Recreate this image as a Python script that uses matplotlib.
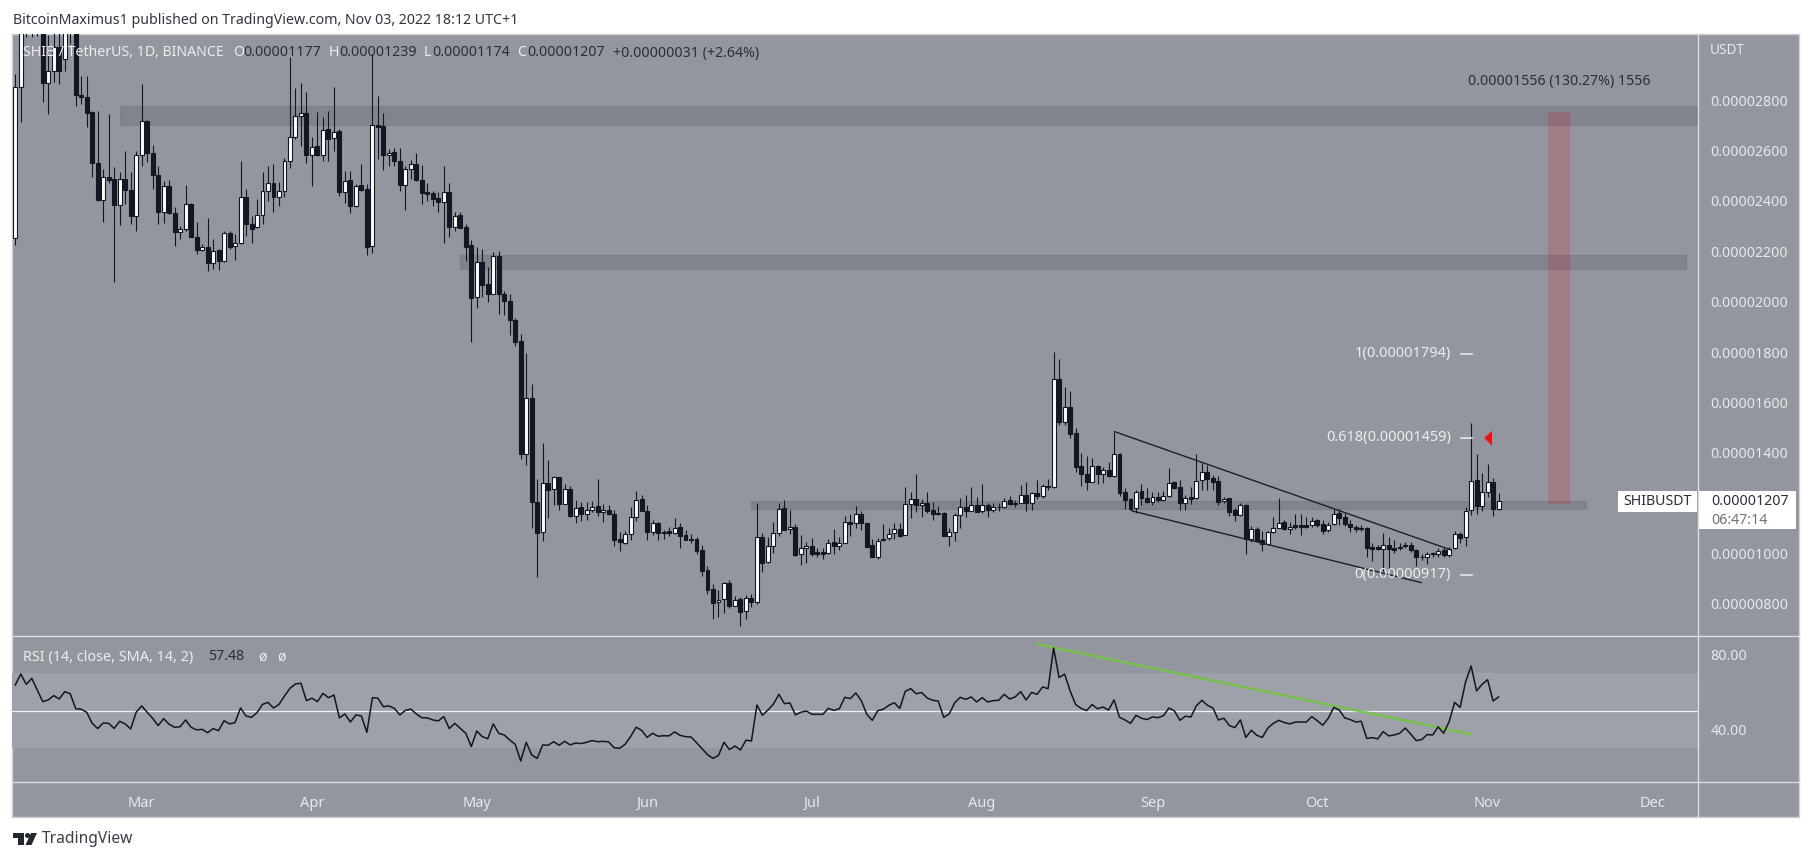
import numpy as np
import matplotlib
matplotlib.use("Agg")
import matplotlib.pyplot as plt
from matplotlib.patches import Rectangle, Polygon, Circle

# price values in units of 0.000001 USDT, one candle per day starting Feb 6 2022
opens = [22.52,28.50,31.6,31.2,31.6,31.0,28.69,29.14,30.12,29.63,
 31.5,31.0,28.21,28.11,27.51,25.49,24.05,24.96,24.87,23.85,
 24.88,24.44,23.41,25.80,27.15,25.91,25.04,23.57,24.60,23.52,
 22.78,22.89,23.86,22.58,22.06,22.15,21.52,22.04,21.62,22.74,
 22.21,22.34,24.14,23.08,22.95,23.45,24.40,24.69,24.14,24.40,
 25.57,26.52,27.38,27.47,25.83,26.16,25.80,26.84,26.48,26.76,
 24.36,24.83,23.81,24.61,24.46,22.19,27.00,26.96,25.80,25.94,
 25.59,24.64,25.25,25.46,24.83,24.34,24.31,24.11,23.94,24.34,
 22.97,23.42,22.95,22.25,20.17,21.57,20.69,20.31,21.80,20.29,
 20.04,19.27,18.43,13.96,16.17,12.03,10.84,12.80,12.55,13.05,
 11.98,12.56,11.51,11.83,11.59,11.75,11.88,11.67,11.75,11.59,
 10.57,10.44,10.76,11.47,12.15,11.71,10.87,11.20,10.80,10.88,
 10.80,11.04,10.72,10.57,10.56,10.13,9.35,8.59,8.06,8.18,
 8.83,7.94,8.18,7.71,8.22,8.09,10.64,9.65,10.29,10.80,
 11.79,10.96,11.05,9.97,10.21,10.32,10.05,10.05,10.01,10.47,
 10.32,10.44,11.26,11.20,11.59,11.20,10.33,9.87,10.52,10.60,
 10.80,10.99,10.72,11.96,12.17,11.92,12.01,11.72,11.61,11.61,
 10.68,10.85,11.52,11.84,11.71,11.91,11.68,11.91,11.72,11.84,
 11.84,12.12,11.95,12.02,12.32,12.02,12.41,12.30,12.67,12.63,
 16.92,15.24,15.82,14.78,13.48,13.16,12.86,13.48,13.15,13.32,
 13.06,13.94,12.43,12.17,11.80,12.47,12.20,12.06,12.24,12.14,
 12.30,12.83,12.63,12.00,12.24,12.20,12.91,13.24,12.99,12.87,
 12.08,12.20,11.73,11.55,11.93,10.58,10.98,10.53,10.37,10.84,
 11.03,11.24,10.99,11.12,11.12,11.12,11.12,11.32,11.17,10.93,
 11.17,11.61,11.44,11.18,11.07,11.00,11.00,10.25,10.25,10.18,
 10.35,10.21,10.25,10.29,10.35,10.14,9.88,9.88,10.01,9.97,
 10.14,9.93,10.21,10.76,10.65,11.73,12.91,11.90,12.43,12.83,11.77]
closes = [28.50,31.6,31.2,31.6,31.0,28.69,29.14,30.12,29.14,31.0,
 31.0,28.21,28.11,27.50,25.49,24.05,24.96,24.83,23.85,24.88,
 24.44,23.41,25.80,27.15,25.91,25.04,23.57,24.60,23.52,22.78,
 22.89,23.86,22.58,22.06,22.15,21.52,22.02,21.62,22.74,22.15,
 22.34,24.14,23.08,22.89,23.45,24.40,24.69,24.14,24.40,25.57,
 26.55,27.38,27.47,25.83,26.15,25.82,26.82,26.47,26.74,24.36,
 24.80,23.81,24.60,24.44,22.18,27.00,26.94,25.80,25.91,25.59,
 24.64,25.26,25.45,24.84,24.31,24.27,24.09,23.97,24.34,22.97,
 23.41,22.93,22.18,20.16,21.56,20.67,20.31,21.80,20.29,20.01,
 19.27,18.41,13.96,16.16,12.06,10.83,12.82,12.52,13.05,11.98,
 12.55,11.50,11.79,11.58,11.75,11.86,11.66,11.75,11.58,10.55,
 10.47,10.76,11.46,12.14,11.71,10.87,11.20,10.80,10.87,10.80,
 11.03,10.71,10.55,10.55,10.11,9.32,8.56,8.02,8.17,8.82,
 7.93,8.14,7.69,8.22,8.09,10.64,9.64,10.30,10.80,11.78,
 10.95,11.06,9.94,10.21,10.31,9.99,9.99,9.99,10.43,10.32,
 10.43,11.26,11.16,11.57,11.20,10.27,9.87,10.51,10.59,10.79,
 10.99,10.71,11.96,12.16,11.91,12.00,11.69,11.59,11.59,10.68,
 10.85,11.52,11.83,11.71,11.91,11.67,11.91,11.75,11.83,11.83,
 12.10,11.95,12.02,12.32,12.02,12.40,12.30,12.67,12.63,16.92,
 15.24,15.81,14.76,13.45,13.14,12.86,13.47,13.14,13.31,13.06,
 13.94,12.42,12.14,11.77,12.46,12.20,12.06,12.26,12.13,12.30,
 12.82,12.61,11.99,12.22,12.18,12.90,13.25,12.98,12.86,12.06,
 12.18,11.67,11.55,11.92,10.58,10.97,10.50,10.37,10.84,11.03,
 11.23,10.99,11.07,11.06,11.07,11.07,11.31,11.14,10.91,11.14,
 11.59,11.43,11.18,11.06,10.97,10.98,10.21,10.18,10.20,10.35,
 10.17,10.16,10.21,10.35,10.14,9.87,9.85,9.98,9.98,10.12,
 9.94,10.20,10.76,10.60,11.70,12.89,11.90,12.43,12.83,11.77,12.07]
highs = [29.03,32.5,32.8,33.0,32.3,31.5,30.6,31.0,30.9,31.5,
 32.0,31.4,28.97,28.97,27.58,27.55,25.26,27.45,25.33,25.13,
 25.99,25.13,25.99,28.64,27.21,26.22,25.39,24.80,24.84,23.74,
 23.01,24.63,23.91,23.15,22.29,23.30,22.48,22.09,22.82,22.82,
 22.68,25.59,24.47,23.41,24.07,25.13,25.39,25.46,24.73,25.70,
 29.69,28.48,28.66,28.31,26.55,27.51,27.31,27.55,28.50,26.85,
 25.20,25.20,24.67,25.46,24.67,29.83,28.16,27.49,26.06,26.10,
 26.10,25.39,25.62,25.90,25.42,24.69,24.40,24.34,25.38,24.71,
 23.54,23.57,23.08,22.45,22.15,22.09,21.36,21.96,22.00,20.43,
 20.3,19.33,18.71,17.98,16.75,12.96,14.37,13.71,13.08,13.05,
 12.78,12.68,12.12,12.06,12.06,12.08,12.96,11.96,11.92,11.73,
 10.87,10.91,11.86,12.48,12.32,11.92,11.33,11.26,10.93,11.04,
 11.40,11.20,10.93,10.76,10.64,10.36,9.50,8.79,8.55,8.88,
 8.95,8.31,8.29,8.35,8.39,11.99,10.80,10.64,11.24,11.99,
 12.11,11.73,11.18,10.73,10.47,10.60,10.21,10.21,10.56,10.96,
 10.64,11.49,11.59,11.89,11.70,11.22,10.56,10.62,11.17,11.03,
 11.20,11.20,12.66,12.46,13.15,12.16,12.43,12.06,11.87,11.64,
 11.01,11.60,12.20,12.33,12.66,12.26,12.75,12.00,12.00,12.00,
 12.20,12.30,12.13,12.73,12.83,12.46,12.92,12.75,12.95,17.99,
 17.73,16.63,16.47,14.97,13.98,13.88,13.81,13.51,13.45,13.63,
 14.84,13.98,12.59,12.20,12.53,12.77,12.59,12.46,12.46,12.49,
 13.40,12.88,12.92,12.33,12.66,13.96,13.59,13.52,13.12,13.06,
 12.26,12.22,11.80,12.00,11.96,11.11,11.07,10.90,10.91,11.47,
 12.20,11.34,11.27,11.56,11.56,11.47,11.47,11.36,11.34,11.27,
 11.77,11.76,11.60,11.34,11.14,11.13,11.04,10.41,10.34,10.83,
 10.67,10.54,10.41,10.47,10.45,10.18,9.98,10.07,10.07,10.21,
 10.27,10.27,10.90,10.87,11.86,15.17,13.94,13.19,13.54,12.99,12.39]
lows = [22.26,27.11,30.51,30.49,30.55,27.92,27.45,28.70,28.64,29.16,
 30.22,27.78,27.84,26.94,24.93,24.01,23.15,24.7,20.77,23.05,
 23.87,23.08,22.82,25.39,25.53,24.47,23.08,23.11,23.48,22.22,
 22.48,22.82,22.55,21.89,22.02,21.23,21.29,21.25,21.56,22.09,
 21.65,22.29,22.59,22.31,22.92,23.08,24.01,23.57,23.81,24.14,
 25.30,26.45,26.19,25.49,24.60,25.79,25.59,25.59,25.99,24.20,
 23.91,23.52,23.74,24.40,21.86,21.93,25.66,25.24,25.39,25.39,
 24.40,23.64,24.87,24.80,23.87,24.01,23.81,23.57,22.33,22.58,
 22.82,22.92,21.62,18.41,19.75,20.17,19.97,20.30,19.51,19.48,
 18.67,18.25,13.75,13.51,11.03,9.08,10.50,11.42,11.94,11.74,
 11.96,11.46,11.22,11.29,11.33,11.66,11.49,11.26,11.53,10.30,
 10.11,10.40,10.54,11.30,11.69,10.55,10.75,10.54,10.59,10.69,
 10.77,10.23,10.54,10.43,9.98,9.13,8.38,7.41,7.49,7.63,
 7.86,7.92,7.14,7.40,7.89,8.00,9.28,9.61,10.03,10.71,
 10.93,10.77,9.90,9.54,9.64,9.90,9.85,9.77,9.98,9.98,
 10.14,10.43,10.71,11.03,10.93,10.25,9.87,9.79,10.51,10.54,
 10.56,10.67,10.72,11.43,11.67,11.47,11.63,11.34,11.54,10.68,
 10.32,10.50,11.01,11.47,11.69,11.67,11.63,11.47,11.67,11.69,
 11.80,11.93,11.83,12.00,11.71,11.73,12.17,12.20,12.53,12.59,
 15.11,15.11,14.58,13.23,12.70,12.53,12.83,12.77,12.82,13.02,
 13.03,12.30,11.76,11.73,11.60,11.93,12.00,11.91,12.04,12.10,
 12.26,12.57,11.73,11.73,11.97,12.17,12.53,12.53,12.53,11.91,
 12.00,11.51,11.31,11.51,10.00,10.48,10.48,10.12,10.35,10.81,
 11.01,10.94,10.78,10.97,10.72,11.01,11.07,11.07,10.78,10.87,
 11.14,11.14,11.10,10.87,10.84,10.91,9.88,9.72,10.14,9.32,
 9.35,10.04,10.14,10.21,10.05,9.51,9.75,9.59,9.88,9.88,
 9.85,9.85,10.18,10.41,10.30,11.53,11.57,11.70,12.26,11.50,11.74]
rsi = [63.9,69.7,64.2,67.4,61.2,55.0,55.9,58.2,56.4,60.3,
 59.2,51.2,50.9,49.3,43.4,40.6,43.6,43.4,40.7,44.5,
 43.1,40.4,49.3,52.7,49.3,46.1,42.2,45.9,42.9,41.3,
 41.6,45.2,41.3,39.9,40.2,38.4,40.6,39.5,44.8,43.1,
 43.8,51.6,47.3,46.6,49.1,53.5,54.6,51.6,53.5,58.0,
 62.1,64.4,64.8,55.5,56.8,55.0,59.4,57.1,58.5,46.3,
 48.4,44.1,47.9,47.3,38.6,57.1,56.8,52.3,52.7,51.4,
 47.9,50.3,51.0,48.4,46.4,46.3,45.2,44.7,47.0,40.6,
 43.4,40.7,38.1,31.0,39.3,36.3,35.2,43.1,38.1,37.2,
 34.5,32.2,23.3,33.3,26.5,24.7,31.9,31.7,33.6,31.7,
 33.8,31.9,32.9,32.6,33.3,34.2,33.6,33.8,33.5,30.4,
 30.1,32.2,36.3,41.3,39.7,35.9,38.1,36.5,36.8,36.7,
 38.8,37.0,36.3,36.1,33.1,29.9,26.7,24.7,26.3,33.3,
 29.4,31.3,29.2,34.4,34.0,53.2,47.7,50.5,53.7,58.9,
 53.9,54.3,47.9,49.3,50.0,48.2,48.2,48.2,51.4,50.3,
 51.2,57.3,56.6,59.6,55.5,48.2,45.0,50.2,50.9,53.0,
 54.4,51.4,60.5,61.9,59.2,59.8,56.9,55.7,55.3,46.6,
 48.4,54.4,57.3,56.2,57.5,54.8,57.1,54.8,55.5,55.7,
 58.9,56.4,57.5,60.3,55.9,59.9,58.9,62.8,61.9,83.6,
 67.8,69.7,60.8,53.5,51.4,50.2,53.4,51.2,52.1,50.5,
 55.9,46.6,45.2,43.4,47.7,46.1,45.4,46.8,46.4,47.5,
 51.6,50.0,45.0,47.2,46.8,52.8,55.7,53.0,51.6,45.2,
 46.1,42.2,41.1,45.2,35.9,39.7,37.0,35.9,40.9,43.4,
 45.0,43.8,43.1,44.1,44.1,44.1,47.0,44.8,42.4,46.1,
 51.9,50.5,46.3,45.4,44.1,44.5,35.4,35.8,35.1,39.0,
 36.7,37.2,38.1,40.9,37.7,34.2,34.7,37.4,37.2,41.5,
 38.1,44.3,54.6,51.9,65.6,74.0,60.7,64.2,66.7,55.3,57.48]

month_labels = ["Mar","Apr","May","Jun","Jul","Aug","Sep","Oct","Nov","Dec"]
month_days = [23,54,84,115,145,176,207,237,268,298]
price_ticks = [8,10,14,16,18,20,22,24,26,28]
price_tick_labels = ["0.00000800","0.00001000","0.00001400","0.00001600","0.00001800",
                     "0.00002000","0.00002200","0.00002400","0.00002600","0.00002800"]
rsi_ticks = [40,80]
rsi_tick_labels = ["40.00","80.00"]

zone_bands = [(27.02,27.75),(21.31,21.85),(11.78,12.09)]
zone_spans = [(19,306.3),(81,304.2),(134,286)]
measure_span = (279,283)
measure_range = (11.97,27.53)
fib_levels = [(17.94,"1(0.00001794)"),(14.59,"0.618(0.00001459)"),(9.17,"0(0.00000917)")]
fib_dash = (263.1,265.1)
wedge_upper = ([200.1,261.4],[14.84,10.14])
wedge_lower = ([203.2,255.9],[11.70,8.85])
rsi_trend = ([186.0,264.9],[85.7,37.6])
arrow_days = [267.4,268.8,268.8]
arrow_prices = [14.59,14.87,14.28]

W, H = 1813, 861
BG = "#93969e"
BAND = "#9ea1a9"
DARK = "#131722"
LINE = "#dcdde0"
LIGHT = "#e8e9ec"
TXT = "#2b2e36"
plt.rcParams["font.family"] = ["Noto Sans", "DejaVu Sans"]
fig = plt.figure(figsize=(W/100, H/100), dpi=100, facecolor="white")

def box(x0, y0, x1, y1):
    return [x0/W, 1-y1/H, (x1-x0)/W, (y1-y0)/H]

# frame background
bg = fig.add_axes(box(12,34,1799,817), facecolor=BG, zorder=0)
bg.set_xticks([]); bg.set_yticks([])
for s in bg.spines.values():
    s.set_color("#d0d1d5"); s.set_linewidth(1.0)

XLIM = (-0.6, 306.3)
days = np.arange(len(opens))
o, h, l, c = map(np.array, (opens, highs, lows, closes))
up = c >= o

ax = fig.add_axes(box(12,34,1698,636), facecolor="none", zorder=2)
ax.set_xlim(*XLIM)
ax.set_ylim(6.73, 30.62)
for (b0,b1),(s0,s1) in zip(zone_bands, zone_spans):
    ax.add_patch(Rectangle((s0,b0), s1-s0, b1-b0, fc="#6a6d76", ec="#6a6d76", lw=0.8, alpha=0.42, zorder=1))
ax.add_patch(Rectangle((measure_span[0],measure_range[0]), measure_span[1]-measure_span[0],
                       measure_range[1]-measure_range[0], fc="#d41921", ec="none", alpha=0.2, zorder=1.5))
ax.vlines(days, l, h, color=DARK, lw=0.8, zorder=3)
top = np.maximum(o, c); bot = np.minimum(o, c)
ax.bar(days, top-bot, bottom=bot, width=0.72, color=np.where(up,"#ffffff",DARK),
       edgecolor=DARK, linewidth=0.8, zorder=4)
ax.plot(*wedge_upper, color="#1d2027", lw=1.0, zorder=5)
ax.plot(*wedge_lower, color="#1d2027", lw=1.0, zorder=5)
ax.add_patch(Polygon(list(zip(arrow_days, arrow_prices)), closed=True, fc="#f00f0f", ec="none", zorder=6))
for lev, name in fib_levels:
    ax.plot(fib_dash, [lev, lev], color="#f0f0f2", lw=1.1, zorder=6)
    ax.text(261.3, lev, name, color="#eceded", fontsize=10.5, ha="right", va="center", zorder=6)
ax.text(281, 28.72, "0.00001556 (130.27%) 1556", color=TXT, fontsize=10.2, ha="center", va="center", zorder=6)
ax.set_xticks([])
ax.yaxis.tick_right()
ax.set_yticks(price_ticks)
ax.set_yticklabels(price_tick_labels, color=LIGHT, fontsize=10.2)
ax.tick_params(axis="y", length=0, pad=9)
for s in ax.spines.values():
    s.set_visible(False)

rx = fig.add_axes(box(12,636,1698,782), facecolor="none", zorder=2)
rx.set_xlim(*XLIM)
rx.set_ylim(12.1, 90)
rx.axhspan(30, 70, color=BAND, lw=0, zorder=0)
rx.axhline(50, color="#eeeff1", lw=0.9, zorder=1)
rx.plot(*rsi_trend, color="#76c24a", lw=2.0, alpha=0.85, zorder=2)
rx.plot(days, rsi, color="#14161c", lw=1.1, zorder=3)
rx.set_xticks(month_days)
rx.set_xticklabels(month_labels, color=LIGHT, fontsize=10.5, fontweight="semibold")
rx.yaxis.tick_right()
rx.set_yticks(rsi_ticks)
rx.set_yticklabels(rsi_tick_labels, color=LIGHT, fontsize=10.2)
rx.tick_params(axis="y", length=0, pad=9)
rx.tick_params(axis="x", length=0, pad=10)
for s in rx.spines.values():
    s.set_visible(False)

# pane separators
ov = fig.add_axes([0,0,1,1], facecolor="none", zorder=5)
ov.set_xlim(0,W); ov.set_ylim(H,0); ov.axis("off")
ov.plot([12,1799],[636,636], color=LINE, lw=1.0)
ov.plot([12,1799],[782,782], color=LINE, lw=1.0)
ov.plot([1698,1698],[34,817], color=LINE, lw=1.0)

# last-price labels
ov.add_patch(Rectangle((1618,491),79,21, fc="white", ec="none"))
ov.add_patch(Rectangle((1699,491),97,38, fc="white", ec="none"))
ov.text(1657,501.5,"SHIBUSDT", color=TXT, fontsize=10.2, ha="center", va="center")
ov.text(1711,501.5,"0.00001207", color=TXT, fontsize=10.2, ha="left", va="center")
ov.text(1711,520,"06:47:14", color="#6f727a", fontsize=10.2, ha="left", va="center")
ov.text(1710,50.5,"USDT", color=LIGHT, fontsize=9.8, ha="left", va="center")

# header and legends
ov.text(13,20,"BitcoinMaximus1 published on TradingView.com, Nov 03, 2022 18:12 UTC+1",
        color="#32353d", fontsize=10.2, ha="left", va="center")
ov.text(23,53,"SHIB / TetherUS, 1D, BINANCE", color="#eceded", fontsize=10.2, ha="left", va="center")
for xl, letter, xv, val in [(233,"O",243,"0.00001177"),(329,"H",339,"0.00001239"),
                            (424,"L",432,"0.00001174"),(517,"C",527,"0.00001207")]:
    ov.text(xl,53,letter, color="#eceded", fontsize=10.2, ha="left", va="center")
    ov.text(xv,53,val, color=TXT, fontsize=10.2, ha="left", va="center")
ov.text(613,53,"+0.00000031 (+2.64%)", color=TXT, fontsize=10.2, ha="left", va="center")
ov.text(23,657,"RSI (14, close, SMA, 14, 2)", color="#eceded", fontsize=10.4, ha="left", va="center")
ov.text(208,657,"57.48", color=TXT, fontsize=10.2, ha="left", va="center")
ov.text(258,657,"ø", color="#eceded", fontsize=10.2, ha="left", va="center")
ov.text(277,657,"ø", color="#eceded", fontsize=10.2, ha="left", va="center")

# footer logo
ov.add_patch(Rectangle((13,833),11,5, fc="#25272e", ec="none"))
ov.add_patch(Rectangle((18,833),6,12, fc="#25272e", ec="none"))
ov.add_patch(Circle((27.5,835.5),2.5, fc="#25272e", ec="none"))
ov.add_patch(Polygon([(31,833),(37,833),(31.5,845),(25.5,845)], closed=True, fc="#25272e", ec="none"))
ov.text(42,839,"TradingView", color="#3a3d45", fontsize=11.2, ha="left", va="center")

fig.savefig("out.png", dpi=100, facecolor="white")
